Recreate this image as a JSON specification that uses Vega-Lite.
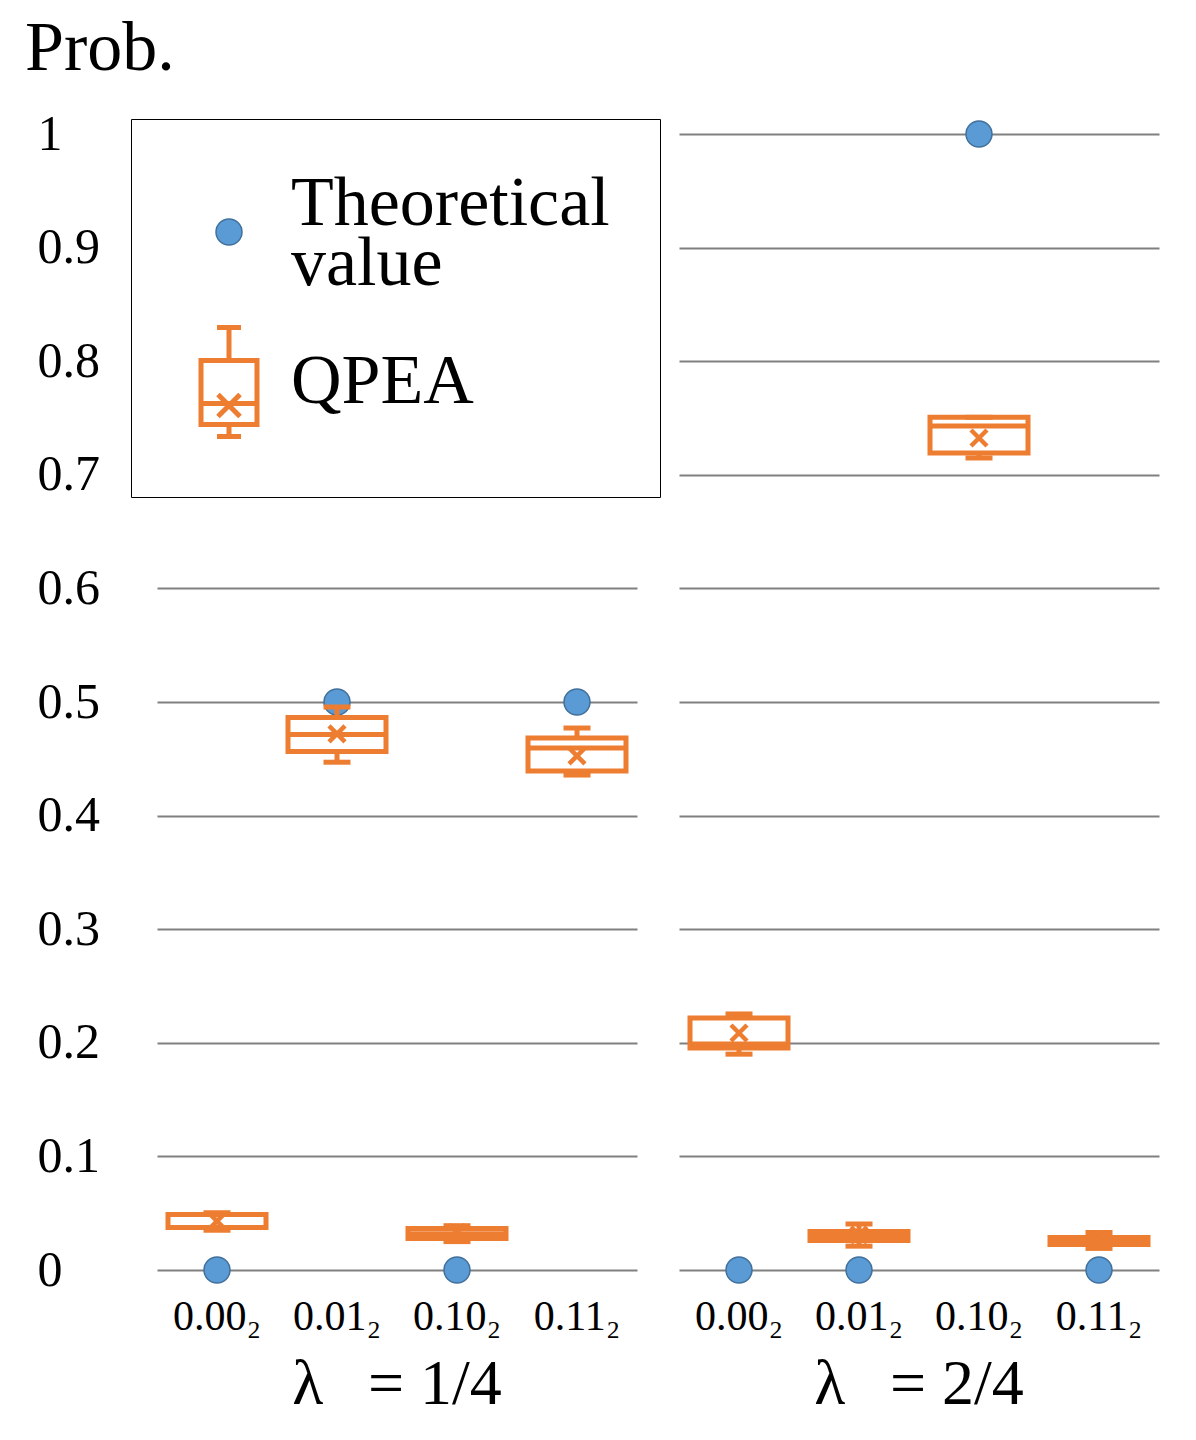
{
  "$schema": "https://vega.github.io/schema/vega-lite/v6.json",
  "padding": {"left": 25, "top": 14, "right": 5, "bottom": 5},
  "title": {"text": "Prob.", "anchor": "start", "frame": "bounds", "fontSize": 70, "fontWeight": "normal", "font": "Liberation Serif", "dx": -12, "offset": 24},
  "data": {
    "values": [
      {"lambda": "λ\u2002\u2009= 1/4", "state": "0.00₂", "series": "Theoretical value", "theory": 0, "min": 0.035, "q1": 0.0375, "median": 0.0375, "q3": 0.0489, "max": 0.0504, "mean": 0.043},
      {"lambda": "λ\u2002\u2009= 1/4", "state": "0.01₂", "series": "Theoretical value", "theory": 0.5, "min": 0.447, "q1": 0.4564, "median": 0.4714, "q3": 0.4864, "max": 0.4956, "mean": 0.472},
      {"lambda": "λ\u2002\u2009= 1/4", "state": "0.10₂", "series": "Theoretical value", "theory": 0, "min": 0.025, "q1": 0.0277, "median": 0.032, "q3": 0.0365, "max": 0.039, "mean": 0.033},
      {"lambda": "λ\u2002\u2009= 1/4", "state": "0.11₂", "series": "Theoretical value", "theory": 0.5, "min": 0.4357, "q1": 0.4393, "median": 0.4595, "q3": 0.4683, "max": 0.4771, "mean": 0.4525},
      {"lambda": "λ\u2002\u2009= 2/4", "state": "0.00₂", "series": "Theoretical value", "theory": 0, "min": 0.19, "q1": 0.1954, "median": 0.199, "q3": 0.2218, "max": 0.2254, "mean": 0.2086},
      {"lambda": "λ\u2002\u2009= 2/4", "state": "0.01₂", "series": "Theoretical value", "theory": 0, "min": 0.021, "q1": 0.026, "median": 0.03, "q3": 0.0339, "max": 0.0405, "mean": 0.031},
      {"lambda": "λ\u2002\u2009= 2/4", "state": "0.10₂", "series": "Theoretical value", "theory": 1, "min": 0.7148, "q1": 0.7192, "median": 0.743, "q3": 0.7506, "max": 0.7506, "mean": 0.7324},
      {"lambda": "λ\u2002\u2009= 2/4", "state": "0.11₂", "series": "Theoretical value", "theory": 0, "min": 0.019, "q1": 0.0224, "median": 0.026, "q3": 0.0286, "max": 0.033, "mean": 0.026}
    ]
  },
  "facet": {
    "column": {
      "field": "lambda", "type": "nominal", "title": null,
      "header": {"labelOrient": "bottom", "labelFontSize": 64, "labelFont": "Liberation Serif", "labelPadding": 16, "labelColor": "black"}
    }
  },
  "spacing": 42,
  "spec": {
    "width": 480,
    "height": 1136,
    "encoding": {
      "x": {
        "field": "state", "type": "nominal", "sort": null, "title": null,
        "axis": {"labelFontSize": 42, "labelAngle": 0, "labelPadding": 10, "ticks": false, "domain": false, "grid": false, "labelColor": "black"}
      }
    },
    "layer": [
      {
        "mark": {"type": "point", "shape": "M0.433,0A0.433,0.433,0,1,1,-0.433,0A0.433,0.433,0,1,1,0.433,0Z", "filled": true, "size": 3600, "opacity": 1, "fill": "#5B9BD5", "stroke": "#41719C", "strokeWidth": 1.5},
        "encoding": {
          "y": {
            "field": "theory", "type": "quantitative", "title": null,
            "scale": {"domain": [0, 1], "nice": false},
            "axis": {"values": [0, 0.1, 0.2, 0.3, 0.4, 0.5, 0.6, 0.7, 0.8, 0.9, 1], "format": ".1~f", "labelAlign": "left", "labelPadding": 120, "labelFontSize": 50, "labelColor": "black", "ticks": false, "domain": false, "gridColor": "#808080", "gridWidth": 2}
          }
        }
      },
      {
        "transform": [{"filter": "datum.theory > 0"}],
        "mark": {"type": "point", "filled": true, "size": 3600, "opacity": 0},
        "encoding": {
          "y": {"field": "theory", "type": "quantitative"},
          "shape": {
            "field": "series", "type": "nominal",
            "scale": {"domain": ["Theoretical value", "QPEA"], "range": ["M0.433,0.933A0.433,0.433,0,1,1,-0.433,0.933A0.433,0.433,0,1,1,0.433,0.933Z", "M-0.933,-0.717L0.933,-0.717L0.933,1.417L-0.933,1.417ZM-0.4,-1.817L0.4,-1.817M0,-1.817L0,-0.717M-0.933,0.717L0.933,0.717M0,1.417L0,1.817M-0.4,1.817L0.4,1.817M-0.367,0.417L0.367,1.15M-0.367,1.15L0.367,0.417"]},
            "legend": {
              "title": null, "orient": "none", "legendX": -26, "legendY": -15,
              "padding": 50, "strokeColor": "black", "fillColor": "white",
              "labelFontSize": 70, "labelFont": "Liberation Serif", "labelColor": "black",
              "symbolSize": 3600, "symbolOpacity": 1, "symbolOffset": 13, "labelOffset": 27, "labelLimit": 0, "rowPadding": 18,
              "labelExpr": "datum.label == 'Theoretical value' ? ['Theoretical', 'value'] : datum.label"
            }
          },
          "fill": {"field": "series", "type": "nominal", "scale": {"domain": ["Theoretical value", "QPEA"], "range": ["#5B9BD5", "#ffffff"]}},
          "stroke": {"field": "series", "type": "nominal", "scale": {"domain": ["Theoretical value", "QPEA"], "range": ["#41719C", "#ED7D31"]}},
          "strokeWidth": {"field": "series", "type": "nominal", "scale": {"domain": ["Theoretical value", "QPEA"], "range": [1.5, 5]}}
        }
      },
      {
        "mark": {"type": "rule", "color": "#ED7D31", "strokeWidth": 5},
        "encoding": {"y": {"field": "min", "type": "quantitative"}, "y2": {"field": "max"}}
      },
      {
        "mark": {"type": "bar", "fill": "#ffffff", "stroke": "#ED7D31", "strokeWidth": 5, "size": 98},
        "encoding": {"y": {"field": "q1", "type": "quantitative"}, "y2": {"field": "q3"}}
      },
      {
        "mark": {"type": "tick", "color": "#ED7D31", "size": 98, "thickness": 5, "opacity": 1},
        "encoding": {"y": {"field": "median", "type": "quantitative"}}
      },
      {
        "mark": {"type": "tick", "color": "#ED7D31", "size": 27, "thickness": 5, "opacity": 1},
        "encoding": {"y": {"field": "min", "type": "quantitative"}}
      },
      {
        "mark": {"type": "tick", "color": "#ED7D31", "size": 27, "thickness": 5, "opacity": 1},
        "encoding": {"y": {"field": "max", "type": "quantitative"}}
      },
      {
        "mark": {"type": "point", "shape": "M-1,-1L1,1M-1,1L1,-1", "filled": false, "stroke": "#ED7D31", "strokeWidth": 4.5, "size": 256, "opacity": 1},
        "encoding": {"y": {"field": "mean", "type": "quantitative"}}
      }
    ]
  },
  "config": {
    "font": "Liberation Serif",
    "view": {"stroke": null},
    "style": {"guide-label": {"lineHeight": 60}}
  }
}
